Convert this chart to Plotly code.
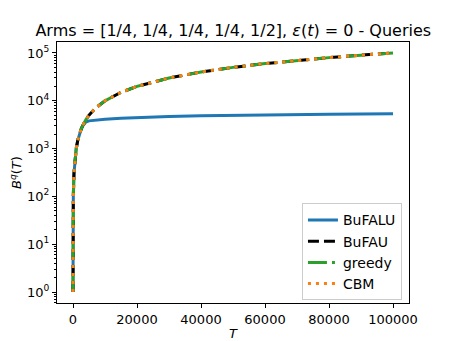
import plotly.graph_objects as go

# horizon T and the query counts
T = [1, 10, 100, 300, 600, 1000, 1500, 2000, 2500, 3000, 3500, 4000, 5000, 7000,
     10000, 15000, 20000, 30000, 40000, 50000, 60000, 70000, 80000, 90000, 100000]
bufalu = [1, 10, 100, 300, 600, 1000, 1500, 2000, 2480, 2950, 3300, 3600, 3800, 3950,
          4100, 4300, 4450, 4680, 4870, 5000, 5100, 5180, 5250, 5310, 5370]
bufau = [1, 10, 100, 300, 600, 1000, 1500, 2000, 2500, 3000, 3500, 4000, 5000, 7000,
         10000, 15000, 20000, 30000, 40000, 50000, 60000, 70000, 80000, 90000, 100000]
greedy = [1, 10, 100, 300, 600, 1000, 1500, 2000, 2500, 3000, 3500, 4000, 5000, 7000,
          10000, 15000, 20000, 30000, 40000, 50000, 60000, 70000, 80000, 90000, 100000]
cbm = [1, 10, 100, 300, 600, 1000, 1500, 2000, 2500, 3000, 3500, 4000, 5000, 7000,
       10000, 15000, 20000, 30000, 40000, 50000, 60000, 70000, 80000, 90000, 100000]

x_ticks = [0, 20000, 40000, 60000, 80000, 100000]
y_ticks = [1, 10, 100, 1000, 10000, 100000]
y_ticktext = ["10<sup>%d</sup>" % i for i in range(6)]

series = [
    ("BuFALU", bufalu, "#1f77b4", "solid"),
    ("BuFAU", bufau, "black", "11px,5px"),
    ("greedy", greedy, "#2ca02c", "19px,5px,3px,5px"),
    ("CBM", cbm, "#ff7f0e", "3px,5px"),
]

fig = go.Figure()
for name, vals, color, dash in series:
    fig.add_trace(go.Scatter(
        x=T, y=vals, mode="lines", name=name,
        line=dict(color=color, width=3, dash=dash),
    ))

minor_vals = [m * 10 ** d for d in range(-1, 6) for m in range(2, 10)]

axis_common = dict(
    showline=True, linecolor="black", linewidth=1, mirror=True,
    ticks="outside", ticklen=4, tickcolor="black", showgrid=False, zeroline=False,
    tickfont=dict(size=13, color="black"), automargin=False,
)

# the page body adds an 8px margin, so the figure is 8px smaller than the window
fig.update_layout(
    width=447, height=333,
    margin=dict(l=49, r=46, t=34, b=38),
    paper_bgcolor="white", plot_bgcolor="white",
    font=dict(family="DejaVu Sans", size=13, color="black"),
    title=dict(
        text="Arms = [1/4, 1/4, 1/4, 1/4, 1/2], <i>ε</i>(<i>t</i>) = 0 - Queries",
        x=0.504, xanchor="center", y=0.934, yanchor="middle",
        font=dict(size=16),
    ),
    xaxis=dict(
        range=[-5000, 105000], tickvals=x_ticks,
        ticktext=[str(v) for v in x_ticks],
        title=dict(text="<i>T</i>", standoff=3, font=dict(size=13)),
        **axis_common,
    ),
    yaxis=dict(
        type="log", range=[-0.23, 5.23], tickvals=y_ticks, ticktext=y_ticktext,
        title=dict(text="<i>B</i><sup><i>q</i></sup>(<i>T</i>)", standoff=2,
                   font=dict(size=13)),
        minor=dict(tickvals=minor_vals, ticks="outside", ticklen=2,
                   tickcolor="black", showgrid=False),
        **axis_common,
    ),
    legend=dict(
        x=0.98, xanchor="right", y=0.01, yanchor="bottom",
        bordercolor="#cccccc", borderwidth=1, bgcolor="rgba(255,255,255,0.8)",
        font=dict(size=14), tracegroupgap=0, itemwidth=30,
    ),
    showlegend=True,
)

fig.write_html("out.html")
